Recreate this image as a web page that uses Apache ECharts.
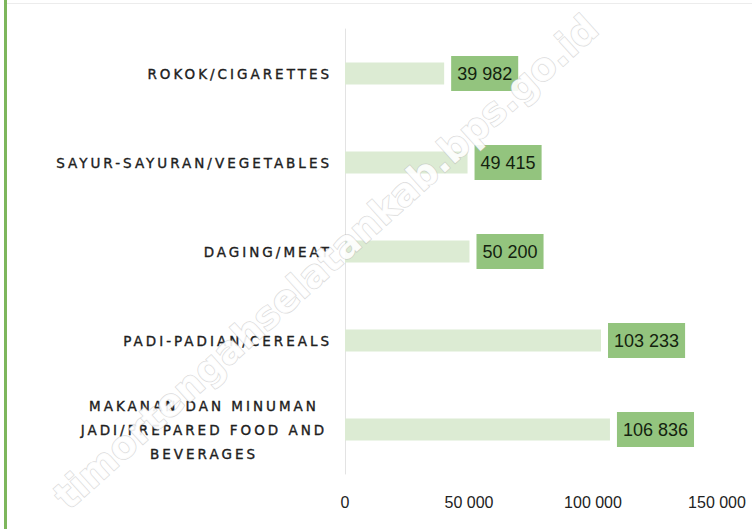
<!DOCTYPE html>
<html>
<head>
    <meta charset="utf-8">
    <title>ECharts</title>
    <script src="https://cdn.jsdelivr.net/npm/echarts@6/dist/echarts.min.js"></script>
    <style>
        html, body { margin: 0; padding: 0; background: #fff; }
        /* category labels in the reference are letter-spaced and a bit heavy */
        #main text[fill="#202020"], #main text[fill="rgb(32,32,32)"] {
            letter-spacing: 3px;
            stroke: #202020;
            stroke-width: 0.35px;
        }
    </style>
</head>
<body>
    <div id="main" style="width: 752px;height:529px;"></div>
    <script type="text/javascript">
        // data (bottom to top as drawn by category axis)
        var categories = [
            'MAKANAN DAN MINUMAN\nJADI/PREPARED FOOD AND\nBEVERAGES',
            'PADI-PADIAN/CEREALS',
            'DAGING/MEAT',
            'SAYUR-SAYURAN/VEGETABLES',
            'ROKOK/CIGARETTES'
        ];
        var values = [106836, 103233, 50200, 49415, 39982];
        var xTicks = [0, 50000, 100000, 150000];

        function spaced(n) {
            return String(n).replace(/\B(?=(\d{3})+(?!\d))/g, ' ');
        }

        var myChart = echarts.init(document.getElementById('main'), null, { renderer: 'svg' });

        var option = {
            backgroundColor: '#ffffff',
            animation: false,
            grid: { left: 345, right: 35, top: 29, bottom: 55 },
            xAxis: {
                type: 'value',
                min: xTicks[0],
                max: xTicks[xTicks.length - 1],
                interval: 50000,
                splitLine: { show: false },
                axisLine: { show: false },
                axisTick: { show: false },
                axisLabel: {
                    margin: 20,
                    color: '#222',
                    fontSize: 16,
                    fontFamily: '"Liberation Sans Narrow", "Liberation Sans", sans-serif',
                    formatter: function (v) { return spaced(v); }
                }
            },
            yAxis: {
                type: 'category',
                data: categories,
                axisTick: { show: false },
                axisLine: { show: true, lineStyle: { color: '#e3e3e3', width: 1 } },
                axisLabel: {
                    margin: 13,
                    color: '#202020',
                    fontSize: 13.5,
                    fontFamily: '"DejaVu Sans", sans-serif',
                    lineHeight: 24,
                    formatter: function (v) {
                        if (v.indexOf('\n') < 0) return v;
                        return v.split('\n').map(function (s) { return '{c|' + s + '}'; }).join('\n');
                    },
                    rich: {
                        c: { width: 256, align: 'center', fontSize: 13.5, lineHeight: 24, color: '#202020', fontFamily: '"DejaVu Sans", sans-serif' }
                    }
                }
            },
            series: [{
                type: 'bar',
                data: values,
                barWidth: 22,
                itemStyle: { color: '#dcebd3' },
                label: {
                    show: true,
                    position: 'right',
                    distance: 7,
                    formatter: function (p) { return spaced(p.value); },
                    backgroundColor: '#93c47e',
                    padding: [8, 6, 8, 6],
                    color: '#14220f',
                    fontSize: 18,
                    lineHeight: 19,
                    fontFamily: '"Liberation Sans Narrow", "Liberation Sans", sans-serif'
                }
            }],
            graphic: [
                {
                    type: 'rect',
                    left: 4, top: 0, z: 10,
                    shape: { width: 3, height: 529 },
                    style: { fill: '#7db65c' }
                },
                {
                    type: 'rect',
                    left: 7, top: 3, z: 10,
                    shape: { width: 745, height: 1 },
                    style: { fill: '#ececec' }
                },
                {
                    type: 'text',
                    x: 326, y: 262, z: 100,
                    rotation: Math.PI * 42 / 180,
                    style: {
                        text: 'timortengahselatankab.bps.go.id',
                        x: 0, y: 0,
                        align: 'center',
                        verticalAlign: 'middle',
                        font: 'bold 38px "DejaVu Sans", sans-serif',
                        fill: 'rgba(255,255,255,0.92)',
                        stroke: 'rgba(185,185,185,0.5)',
                        lineWidth: 1.5
                    }
                }
            ]
        };

        myChart.setOption(option);
    </script>
</body>
</html>
